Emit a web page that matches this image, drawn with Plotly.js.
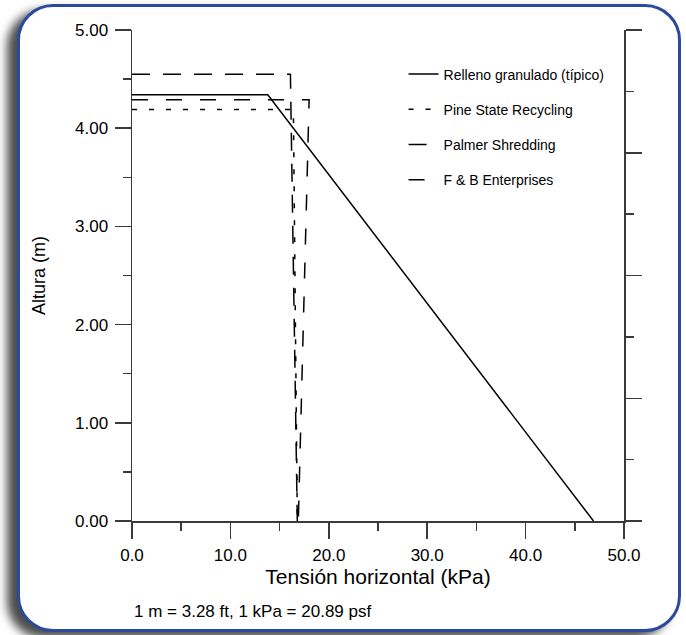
<!DOCTYPE html>
<html>
<head>
<meta charset="utf-8">
<script src="https://cdn.plot.ly/plotly-3.0.1.min.js"></script>
<style>
  html, body { margin: 0; padding: 0; width: 686px; height: 635px; background: #ffffff; overflow: hidden; }
  #frame {
    position: absolute; left: 17px; top: 4px; width: 658px; height: 622px;
    border: 3px solid #2c4a9c; border-radius: 36px; background: #ffffff;
    box-shadow: -10px 6px 10px rgba(0,0,0,0.7);
  }
  #chart { position: absolute; left: 0; top: 0; width: 686px; height: 635px; }
</style>
</head>
<body>
<div id="frame"></div>
<div id="chart"></div>
<script>
// Data (x: horizontal stress kPa, y: height m)
const relleno_x = [0, 13.8, 46.9];
const relleno_y = [4.34, 4.34, 0];
const pine_x = [0, 16.4, 16.8];
const pine_y = [4.19, 4.19, 0];
const palmer_x = [0, 16.1, 16.8];
const palmer_y = [4.55, 4.55, 0];
const fb_x = [0, 18.0, 16.9];
const fb_y = [4.29, 4.29, 0];

const seriesNames = ['Relleno granulado (típico)', 'Pine State Recycling', 'Palmer Shredding', 'F & B Enterprises'];
const xTicks = [0, 10, 20, 30, 40, 50];
const yTicks = [0, 1, 2, 3, 4, 5];
const footnote = '1 m = 3.28 ft, 1 kPa = 20.89 psf';

const baseFont = 'Liberation Sans, Arial, Helvetica, sans-serif';
const narrowFont = 'Liberation Sans Narrow, Arial Narrow, Liberation Sans, Arial, sans-serif';
const axisCol = '#3a3a3a';

function tr(x, y, name, dash, grp) {
  return {
    type: 'scatter', mode: 'lines', x: x, y: y, name: name,
    legendgroup: grp,
    line: { color: '#000000', width: 1.5, dash: dash },
    hoverinfo: 'skip'
  };
}

const data = [
  tr(relleno_x, relleno_y, seriesNames[0], 'solid', 'g1'),
  tr(pine_x, pine_y, seriesNames[1], '5px,12px', 'g2'),
  tr(palmer_x, palmer_y, seriesNames[2], '18px,13px', 'g3'),
  tr(fb_x, fb_y, seriesNames[3], '16px,18px', 'g4'),
  { type: 'scatter', x: [], y: [], yaxis: 'y2', showlegend: false, hoverinfo: 'skip' }
];

const layout = {
  width: 686, height: 635,
  paper_bgcolor: 'rgba(0,0,0,0)',
  plot_bgcolor: 'rgba(0,0,0,0)',
  margin: { l: 132, r: 62, t: 30, b: 114, pad: 0 },
  font: { family: baseFont, color: '#000000', size: 17 },
  showlegend: true,
  legend: {
    x: 0.552, y: 0.942, xanchor: 'left', yanchor: 'top',
    bgcolor: 'rgba(0,0,0,0)', borderwidth: 0,
    traceorder: 'grouped', tracegroupgap: 14,
    font: { family: narrowFont, size: 14, color: '#000000' }
  },
  xaxis: {
    range: [0, 50], tickvals: xTicks, tickformat: '.1f',
    showgrid: false, zeroline: false,
    showline: true, linecolor: axisCol, linewidth: 1.5,
    ticks: 'outside', ticklen: 16, tickwidth: 1.5, tickcolor: axisCol,
    ticklabelstandoff: 2,
    minor: { dtick: 5, ticks: 'outside', ticklen: 8, tickwidth: 1.5, tickcolor: axisCol, showgrid: false },
    tickfont: { size: 17, family: baseFont },
    title: { text: 'Tensión horizontal (kPa)', font: { size: 21, family: baseFont }, standoff: 4 },
    fixedrange: true
  },
  yaxis: {
    range: [0, 5], tickvals: yTicks, tickformat: '.2f',
    showgrid: false, zeroline: false,
    showline: true, linecolor: axisCol, linewidth: 1.5,
    ticks: 'outside', ticklen: 16, tickwidth: 1.5, tickcolor: axisCol,
    ticklabelstandoff: 3,
    minor: { dtick: 0.5, ticks: 'outside', ticklen: 8, tickwidth: 1.5, tickcolor: axisCol, showgrid: false },
    tickfont: { size: 17, family: baseFont },
    title: { text: 'Altura (m)', font: { size: 18, family: baseFont }, standoff: 24 },
    fixedrange: true
  },
  yaxis2: {
    overlaying: 'y', side: 'right', anchor: 'x',
    range: [0, 8], dtick: 2, showticklabels: false,
    showgrid: false, zeroline: false,
    showline: true, linecolor: axisCol, linewidth: 1.5,
    ticks: 'outside', ticklen: 16, tickwidth: 1.5, tickcolor: axisCol,
    minor: { dtick: 1, ticks: 'outside', ticklen: 8, tickwidth: 1.5, tickcolor: axisCol, showgrid: false },
    fixedrange: true
  },
  annotations: [{
    xref: 'paper', yref: 'paper', x: 0, y: -0.185,
    xanchor: 'left', yanchor: 'middle', showarrow: false,
    text: footnote, font: { size: 17, family: baseFont, color: '#000000' }
  }]
};

Plotly.newPlot('chart', data, layout, { staticPlot: true, displayModeBar: false });
</script>
</body>
</html>
